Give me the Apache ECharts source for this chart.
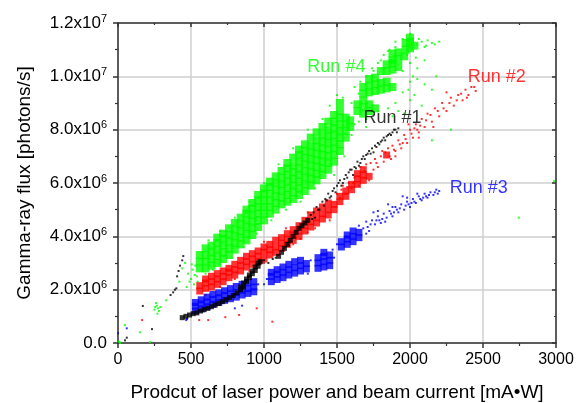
<!DOCTYPE html>
<html><head><meta charset="utf-8">
<script src="https://cdn.jsdelivr.net/npm/echarts@6/dist/echarts.min.js"></script>
<style>html,body{margin:0;padding:0;background:#fff}#c{width:576px;height:403px}</style>
</head><body><div id="c"></div>
<script>
// y values in units of 1e6 photons/s; core rows are [x, y1, y2, ...]
const run4Core = [
 [560,2.8,3.05,3.3],[600,2.8,3.05,3.3,3.55],[640,2.9,3.15,3.4,3.65],[680,3.0,3.25,3.5,3.75,3.95],
 [720,3.15,3.4,3.65,3.9,4.1],[760,3.3,3.55,3.8,4.05,4.3],[800,3.5,3.75,4.0,4.25,4.5],[840,3.7,3.95,4.2,4.45,4.7],
 [880,3.85,4.1,4.35,4.6,4.85,5.0],[920,4.05,4.3,4.55,4.8,5.05,5.25],[960,4.35,4.6,4.85,5.1,5.35,5.55],
 [1000,4.6,4.85,5.1,5.35,5.6,5.8],[1040,4.85,5.1,5.35,5.6,5.85,6.05],[1080,5.0,5.25,5.5,5.75,6.0,6.25],
 [1120,5.2,5.45,5.7,5.95,6.2,6.45],[1160,5.3,5.55,5.8,6.05,6.3,6.55,6.75],[1200,5.4,5.65,5.9,6.15,6.4,6.65,6.95],
 [1240,5.55,5.8,6.05,6.3,6.55,6.8,7.05,7.25],[1280,5.7,5.95,6.2,6.45,6.7,6.95,7.2,7.45],
 [1320,5.9,6.15,6.4,6.65,6.9,7.15,7.4,7.7],[1360,6.1,6.35,6.6,6.85,7.1,7.35,7.6,7.9],
 [1400,6.3,6.55,6.8,7.05,7.3,7.55,7.8,8.1],[1440,6.5,6.75,7.0,7.25,7.5,7.75,8.0,8.3],
 [1480,6.8,7.05,7.3,7.55,7.8,8.05,8.3,8.55],[1520,7.2,7.45,7.7,7.95,8.2,8.45,8.7,9.0],
 [1560,7.7,7.95,8.2,8.45],[1590,8.1,8.35],
 [1640,8.7,8.95],[1680,8.6,8.85,9.1,9.35,9.6],[1720,8.7,8.95,9.4,9.65,9.9],[1760,8.8,9.45,9.7,9.95],
 [1800,9.5,9.75,10.2],[1840,9.55,9.8,10.2,10.45],[1880,9.6,10.25,10.5,10.6,10.85],[1920,10.35,10.65,10.9],
 [1960,10.75],[1970,11.0,11.25],[2000,11.05,11.3,11.45],[2030,11.15]
];
const run4Sparse = [
 [480,2.6],[490,2.3],[500,2.4],[510,2.75],[520,2.2],[530,2.9],[540,2.5],[550,2.05],[470,2.1],[505,2.95],[525,2.55],[545,2.3],
 [600,2.6],[650,2.75],[700,2.95],[780,3.2],[860,3.6],[950,4.1],[1050,4.6],[1150,5.0],[1250,5.3],[1350,5.8],[1480,6.3],[1550,7.0],[1600,7.8],[1620,8.2],
 [620,3.85],[700,4.2],[800,4.7],[900,5.3],[1000,6.0],[1100,6.7],[1200,7.3],[1300,8.0],[1400,8.4],[1450,8.9],[1500,9.3],[1540,9.2],
 [1600,9.0],[1650,9.35],[1700,10.0],[1750,10.2],[1800,10.6],[1850,10.95],[1900,11.1],[1950,11.4],[2000,11.6],[2050,11.2],[2080,11.3],
 [2100,11.1],[2150,11.25],[2120,11.35],[2170,11.2],[1950,10.2],[2000,10.5],[2050,10.3],[2100,10.6],[2000,9.8],[1950,9.4],[2050,9.9],
 [1900,9.0],[1850,8.8],[2000,9.1],[2080,8.9],[2150,9.5],[1960,8.6],[1780,8.7],[1700,8.4],[2020,10.0],[1980,10.8],[2040,10.7],
 [1620,9.6],[1660,9.8],[1740,10.3],[1780,10.5],[1820,10.8],[1860,11.0],[1900,11.3],[2060,11.4],[2110,11.15],[1990,9.5],
 [2030,9.3],[2100,9.7],[1920,8.7],[1880,8.5],[1650,8.3],[1700,8.1],[2180,10.0],[2200,11.3],
 [2280,8.0],[2745,4.7],[2986,6.07],[2150,7.6],
 [250,1.25],[265,1.4],[280,1.2],[260,1.5],[290,1.35],[270,1.1],[275,1.3],[255,1.35],[48,0.67],[150,0.4],[10,0.03],[5,0.06],[15,0.0],
 [220,0.03],[330,1.6],[420,2.3],[440,2.8],[460,3.0]
];
const run2Core = [
 [560,1.95,2.15],[600,2.05,2.25,2.4],[640,2.1,2.3,2.5],[680,2.2,2.4,2.6],[720,2.3,2.5,2.7],[760,2.45,2.65,2.8],
 [800,2.55,2.75,2.95],[840,2.7,2.9,3.1],[880,2.85,3.05,3.25],[920,2.95,3.15,3.35],[960,3.05,3.25,3.45],[1000,3.15,3.4,3.6],
 [1040,3.3,3.5,3.7],[1080,3.4,3.6,3.85],[1120,3.55,3.75,3.95],[1160,3.7,3.9,4.1],[1200,3.85,4.05,4.25],[1240,4.0,4.2,4.4],
 [1280,4.2,4.4,4.6],[1320,4.35,4.55,4.8],[1360,4.5,4.7,4.95],[1400,4.65,4.85,5.1],[1440,4.8,5.0,5.25],[1480,5.0,5.2],
 [1520,5.3,5.5],[1560,5.5,5.7],[1600,5.75,5.95],
 [1640,5.95,6.15,6.35],[1680,6.1,6.3,6.5],[1720,6.25],[1840,7.05]
];
const run2Sparse = [
 [1500,5.6],[1520,5.45],[1540,5.9],[1560,5.6],[1580,6.0],[1600,5.8],[1620,6.2],[1650,5.9],[1660,6.6],[1700,6.7],[1720,6.1],[1750,6.5],
 [1760,6.9],[1780,6.6],[1800,7.0],[1820,6.8],[1850,7.3],[1870,6.9],[1880,7.4],[1900,7.2],[1920,7.6],[1940,7.3],[1960,7.8],[1980,7.5],
 [2000,8.0],[2020,7.7],[2040,8.2],[2060,7.9],[2080,8.4],[2100,8.1],[2120,8.6],[2150,8.3],[2170,8.8],[2200,8.5],[2220,9.0],[2250,8.7],
 [2280,9.2],[2300,8.9],[2330,9.3],[2360,9.1],[2380,9.5],[2400,9.3],[2420,9.6],[2450,9.45],[2250,9.4],[1900,7.0],[1950,7.5],[2050,8.0],
 [1830,7.15],[1860,7.0],
 [1530,5.75],[1570,5.85],[1610,6.0],[1690,6.45],[1730,6.75],[1770,6.75],[1810,7.2],[1890,7.25],[1930,7.45],[1970,7.65],
 [2010,7.85],[2030,8.05],[2070,8.15],[2110,8.35],[2140,8.55],[2190,8.7],[2230,8.8],[2270,9.0],[2320,9.1],[2350,9.35],
 [2390,9.2],[2440,9.6],[2160,8.1],[2060,7.7],[1990,8.2],
 [600,1.8],[700,2.1],[800,2.4],[900,2.7],[1000,3.0],[1100,3.3],[1200,3.7],[1250,3.9],[1300,4.15],[1350,4.3],[1450,4.6],[1150,4.3],
 [1000,3.8],[1300,4.9],
 [165,0.86],[556,0.86],[618,0.86],[735,0.97],[1057,0.8],[830,1.05],[950,1.3]
];
const run3Core = [
 [530,1.2,1.38,1.52],[570,1.28,1.46,1.62],[610,1.36,1.54,1.72],[650,1.45,1.63,1.82],[690,1.52,1.7,1.88],
 [730,1.6,1.78,1.96],[770,1.66,1.84,2.04],[810,1.72,1.9,2.12],[850,1.8,1.98,2.2],[890,1.86,2.04,2.26],[930,1.92,2.1,2.3],
 [1050,2.3,2.5,2.65],[1090,2.38,2.58,2.75],[1130,2.45,2.65,2.85],[1170,2.55,2.75,2.95],[1210,2.62,2.82,3.05],
 [1250,2.7,2.9,3.1],[1290,2.78,2.98],
 [1370,2.8,3.0,3.2],[1410,2.85,3.05,3.25,3.4],[1450,2.9,3.1,3.3],
 [1530,3.6,3.8],[1570,3.7,3.9,4.05],[1610,3.8,4.0,4.2],[1650,3.95,4.15]
];
const run3Sparse = [
 [1680,4.3],[1700,4.55],[1720,4.2],[1740,4.6],[1760,4.45],[1780,4.75],[1800,4.5],[1820,4.85],[1840,4.7],[1860,4.95],[1880,4.75],
 [1900,5.1],[1920,4.9],[1940,5.2],[1960,5.0],[1980,5.3],[2000,5.1],[2020,5.4],[2040,5.25],[2060,5.5],[2080,5.35],[2100,5.6],
 [2120,5.45],[2140,5.65],[2160,5.55],[2180,5.75],[2200,5.7],[1750,4.9],[1850,5.2],[1950,5.5],[1650,4.4],[1700,4.1],[1790,4.6],
 [1890,4.9],[1990,5.2],[2090,5.45],
 [1710,4.35],[1730,4.45],[1770,4.6],[1810,4.65],[1830,4.55],[1870,4.85],[1910,5.0],[1930,5.05],[1970,5.15],[2010,5.25],
 [2030,5.3],[2070,5.4],[2110,5.5],[2130,5.55],[2170,5.65],[2190,5.6],[1780,4.95],[1880,5.1],[1980,5.45],[2050,5.6],
 [800,1.3],[850,1.4],[1000,2.2],[1020,2.4],[1300,2.6],[1470,3.5],[1500,3.7],[960,2.2],[1320,3.1],[1480,3.2],
 [60,0.55],[0,0.37],[467,0.86],[473,0.9]
];
const run1Core = [
 [440,0.95],[465,1.0],[490,1.05],[515,1.1],[540,1.13],[565,1.2],[590,1.25],[615,1.3],[640,1.36],[665,1.42],[690,1.48],
 [715,1.55],[740,1.62],[765,1.7],[790,1.78],[815,1.88],[840,2.0,2.1],[860,2.1,2.25],[880,2.3,2.4],[900,2.45,2.55],
 [920,2.6,2.7],[940,2.72,2.85],[960,2.88,3.0],[975,3.05],
 [1100,3.25],[1120,3.4],[1140,3.55],[1160,3.7],[1180,3.85],[1200,4.0],[1220,4.15],[1240,4.3],[1260,4.4],[1280,4.5],[1300,4.6]
];
const run1Sparse = [
 [1320,4.8],[1340,4.9],[1360,5.1],[1380,5.0],[1400,5.3],[1420,5.4],[1440,5.6],[1460,5.5],[1480,5.8],[1500,5.9],[1520,6.1],
 [1540,6.0],[1560,6.3],[1580,6.4],[1600,6.5],[1620,6.6],[1640,6.8],[1660,6.75],[1680,7.0],[1700,7.05],[1720,7.2],[1740,7.3],
 [1760,7.4],[1780,7.5],[1800,7.55],[1820,7.7],[1840,7.75],[1860,7.85],[1880,7.9],[1900,8.0],[1920,8.05],[1470,5.7],[1530,5.9],
 [1610,6.3],[1690,6.9],[1350,4.7],[1430,5.35],[1550,6.15],[1750,7.15],
 [1330,4.65],[1370,5.0],[1410,5.15],[1450,5.45],[1490,5.65],[1510,6.0],[1570,6.2],[1590,6.5],[1630,6.55],[1650,6.65],
 [1670,6.9],[1710,7.1],[1730,7.1],[1770,7.35],[1790,7.45],[1810,7.6],[1830,7.6],[1850,7.8],[1870,7.8],[1890,8.0],[1910,7.9],
 [1000,3.1],[1030,3.0],[1060,3.15],[1080,3.2],
 [447,3.26],[440,3.1],[378,1.9],[390,2.0],[360,1.8],[400,2.05],[170,1.39],[233,0.52],[48,0.1],[415,2.7],[425,2.9],[405,2.5],[60,0.2]
];
const runNames = ['Run #4','Run #2','Run #3','Run #1'];
const runColors = ['#00ff00','#ff0000','#0000ff','#000000'];
const labelAnchors = [[1297,10.35],[2396,9.97],[2272,5.81],[1682,8.44]];

const FONT = '"Liberation Sans", Arial, sans-serif';
function rows(c){ return c.flatMap(r => r.slice(1).map(y => [r[0], y])); }
const cores = [run4Core, run2Core, run3Core, run1Core];
const sparses = [run4Sparse, run2Sparse, run3Sparse, run1Sparse];
const coreSizes = [8, 7, 7, 5];

const series = [];
for (let i = 0; i < 4; i++) {
  series.push({type:'scatter', name: runNames[i], data: rows(cores[i]), symbol:'rect', symbolSize: coreSizes[i],
    itemStyle:{color: runColors[i]}, silent:true, z: 2 + i});
  series.push({type:'scatter', name: runNames[i], data: sparses[i], symbol:'rect', symbolSize: 2,
    itemStyle:{color: runColors[i]}, silent:true, z: 2 + i});
}
for (let i = 0; i < 4; i++) {
  series.push({type:'scatter', data:[labelAnchors[i]], symbolSize:0, silent:true, z: 10,
    label:{show:true, position:'right', distance:0, formatter: runNames[i], color: runColors[i], fontSize:18, fontFamily: FONT}});
}

const axisLineStyle = {color:'#333', width:1.5};
function yLabel(v){
  if (v === 0) return '0.0';
  if (v >= 10) return (v/10).toFixed(1) + 'x10{s|7}';
  return v.toFixed(1) + 'x10{s|6}';
}
const chart = echarts.init(document.getElementById('c'), null, {renderer:'canvas'});
chart.setOption({
  animation:false,
  backgroundColor:'#fff',
  grid:{left:118, right:20, top:23, bottom:60, outerBoundsMode:'none'},
  xAxis:[{
    type:'value', min:0, max:3000, interval:500, position:'bottom',
    axisLine:{show:true, onZero:false, lineStyle:axisLineStyle},
    axisTick:{show:true, inside:false, length:5, lineStyle:axisLineStyle},
    minorTick:{show:true, splitNumber:2, length:3, lineStyle:{color:'#333', width:1.2}},
    splitLine:{show:true, lineStyle:{color:'#cfcfcf', width:1.5}},
    axisLabel:{fontSize:16, color:'#000', margin:9, fontFamily:FONT, formatter: v => String(v)},
    name:'Prodcut of laser power and beam current [mA\u2022W]', nameLocation:'middle', nameGap:40,
    nameTextStyle:{fontSize:19, color:'#000', fontFamily:FONT}
  },{
    type:'value', min:0, max:3000, interval:500, position:'top',
    axisLine:{show:true, onZero:false, lineStyle:axisLineStyle},
    axisTick:{show:true, inside:true, length:4, lineStyle:axisLineStyle},
    minorTick:{show:true, splitNumber:2, length:2, lineStyle:{color:'#333', width:1.2}},
    splitLine:{show:false}, axisLabel:{show:false}
  }],
  yAxis:[{
    type:'value', min:0, max:12, interval:2, position:'left',
    axisLine:{show:true, onZero:false, lineStyle:axisLineStyle},
    axisTick:{show:true, inside:false, length:5, lineStyle:axisLineStyle},
    minorTick:{show:true, splitNumber:2, length:3, lineStyle:{color:'#333', width:1.2}},
    splitLine:{show:true, lineStyle:{color:'#cfcfcf', width:1.5}},
    axisLabel:{fontSize:17, color:'#000', margin:11, fontFamily:FONT, formatter:yLabel,
      rich:{s:{fontSize:11, fontFamily:FONT, color:'#000', padding:[0,0,9,0]}}},
    name:'Gamma-ray flux [photons/s]', nameLocation:'middle', nameGap:84,
    nameTextStyle:{fontSize:19, color:'#000', fontFamily:FONT}
  },{
    type:'value', min:0, max:12, interval:2, position:'right',
    axisLine:{show:true, onZero:false, lineStyle:axisLineStyle},
    axisTick:{show:true, inside:true, length:4, lineStyle:axisLineStyle},
    minorTick:{show:true, splitNumber:2, length:2, lineStyle:{color:'#333', width:1.2}},
    splitLine:{show:false}, axisLabel:{show:false}
  }],
  series: series
});
</script></body></html>
